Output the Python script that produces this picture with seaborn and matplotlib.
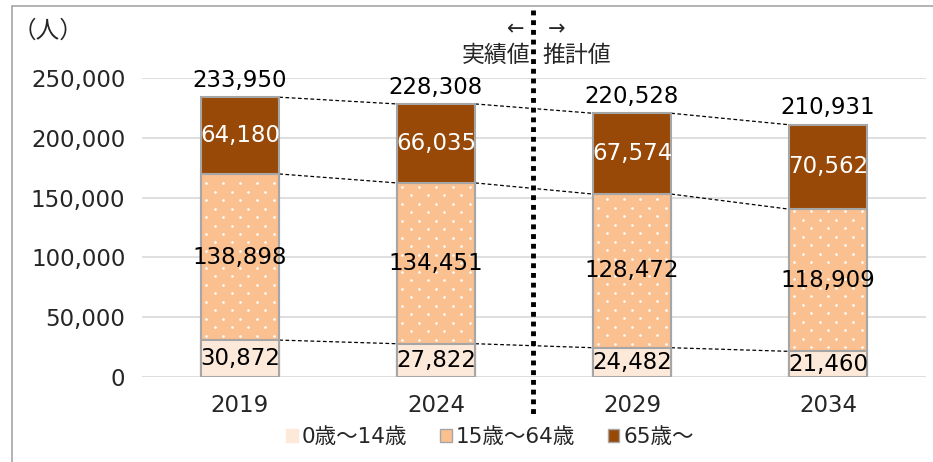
import matplotlib
matplotlib.use("Agg")
import matplotlib.pyplot as plt
import numpy as np
import pandas as pd
import seaborn as sns
from matplotlib.lines import Line2D
from matplotlib.patches import Patch

YEARS = ["2019", "2024", "2029", "2034"]
AGE_0_14 = [30872, 27822, 24482, 21460]
AGE_15_64 = [138898, 134451, 128472, 118909]
AGE_65 = [64180, 66035, 67574, 70562]
TOTALS = [233950, 228308, 220528, 210931]
YTICKS = [0, 50000, 100000, 150000, 200000, 250000]
SERIES_NAMES = ["0歳～14歳", "15歳～64歳", "65歳～"]

C_YOUNG = "#FDE9D9"
C_WORK = "#FAC090"
C_OLD = "#984807"
EDGE = "#A6A6A6"
FS = 16.5

sns.set_theme(style="white")
plt.rcParams["font.family"] = ["DejaVu Sans", "Noto Sans CJK JP"]

df = pd.DataFrame({
    "year": YEARS,
    "young": AGE_0_14,
    "work": AGE_15_64,
    "old": AGE_65,
    "total": TOTALS,
})
df["cum_work"] = df["young"] + df["work"]
df["cum_all"] = df["cum_work"] + df["old"]

fig = plt.figure(figsize=(9.33, 4.62), dpi=100)
ax = fig.add_axes([142 / 933, 1 - 377 / 462, (926 - 142) / 933, (377 - 78) / 462])

W = 0.4
sns.barplot(data=df, x="year", y="cum_all", color=C_OLD, width=W, saturation=1,
            edgecolor=EDGE, linewidth=1.5, ax=ax, zorder=3)
sns.barplot(data=df, x="year", y="cum_work", color=C_WORK, width=W, saturation=1,
            edgecolor=EDGE, linewidth=1.5, ax=ax, zorder=3)
sns.barplot(data=df, x="year", y="young", color=C_YOUNG, width=W, saturation=1,
            edgecolor=EDGE, linewidth=1.5, ax=ax, zorder=3)

ax.set_xlim(-0.5, 3.5)
ax.set_ylim(0, 250000)
ax.set_yticks(YTICKS)
ax.set_yticklabels([f"{v:,}" for v in YTICKS], fontsize=FS)
ax.tick_params(axis="x", labelsize=FS, pad=6)
ax.tick_params(axis="y", pad=12, length=0)
ax.set_xlabel("")
ax.set_ylabel("")
ax.yaxis.grid(True, color="#D9D9D9", linewidth=1.2, zorder=0)
for s in ax.spines.values():
    s.set_visible(False)

x = np.arange(len(YEARS))

# white dot texture on the 15-64 segments
dx = 0.0865
dy = 7100
for i in range(len(YEARS)):
    ys = np.arange(df["young"][i] + 3500, df["cum_work"][i] - 1500, dy)
    px, py = [], []
    for k, yv in enumerate(ys):
        offs = np.arange(-2, 3) * dx if k % 2 == 0 else (np.arange(-2, 2) + 0.5) * dx
        px.extend(x[i] + offs)
        py.extend([yv] * len(offs))
    ax.scatter(px, py, s=3.5, color="white", linewidths=0, zorder=4)

for i in range(len(YEARS)):
    ax.text(x[i], df["young"][i] / 2, f"{AGE_0_14[i]:,}", ha="center", va="center",
            fontsize=FS, color="black", zorder=5)
    ax.text(x[i], df["young"][i] + AGE_15_64[i] / 2, f"{AGE_15_64[i]:,}", ha="center",
            va="center", fontsize=FS, color="black", zorder=5)
    ax.text(x[i], df["cum_work"][i] + AGE_65[i] / 2, f"{AGE_65[i]:,}", ha="center",
            va="center", fontsize=FS, color="white", zorder=5)
    ax.text(x[i], df["cum_all"][i] + 4500, f"{TOTALS[i]:,}", ha="center", va="bottom",
            fontsize=FS, color="black", zorder=5)

# dashed connectors between bars
for col in ["young", "cum_work", "cum_all"]:
    for i in range(len(YEARS) - 1):
        ax.plot([x[i] + W / 2, x[i + 1] - W / 2], [df[col][i], df[col][i + 1]],
                color="black", linestyle=(0, (3, 2)), linewidth=0.9, zorder=2)

# actual / projected divider
fig.add_artist(Line2D([533 / 933, 533 / 933], [1 - 10 / 462, 1 - 417 / 462],
                      color="black", linewidth=3.5, linestyle=(0, (1, 1))))
fig.text(516 / 933, 1 - 29 / 462, "←", ha="center", va="center", fontsize=15)
fig.text(557 / 933, 1 - 29 / 462, "→", ha="center", va="center", fontsize=15)
fig.text(496 / 933, 1 - 55 / 462, "実績値", ha="center", va="center", fontsize=16.5)
fig.text(577 / 933, 1 - 55 / 462, "推計値", ha="center", va="center", fontsize=16.5)
fig.text(48 / 933, 1 - 31 / 462, "（人）", ha="center", va="center", fontsize=17)

# frame
fig.add_artist(Line2D([12 / 933, 1], [1 - 6 / 462, 1 - 6 / 462], color="#A6A6A6", linewidth=1.2))
fig.add_artist(Line2D([12 / 933, 12 / 933], [0, 1 - 6 / 462], color="#A6A6A6", linewidth=1.2))

handles = [
    Patch(facecolor=C_YOUNG, edgecolor=C_YOUNG),
    Patch(facecolor=C_WORK, edgecolor=EDGE),
    Patch(facecolor=C_OLD, edgecolor=EDGE),
]
fig.legend(handles, SERIES_NAMES, loc="center", bbox_to_anchor=(490 / 933, 1 - 437 / 462),
           ncol=3, frameon=False, fontsize=15.5, handlelength=0.55, handleheight=0.55,
           handletextpad=0.2, columnspacing=1.5)

fig.savefig("out.png", dpi=100)
